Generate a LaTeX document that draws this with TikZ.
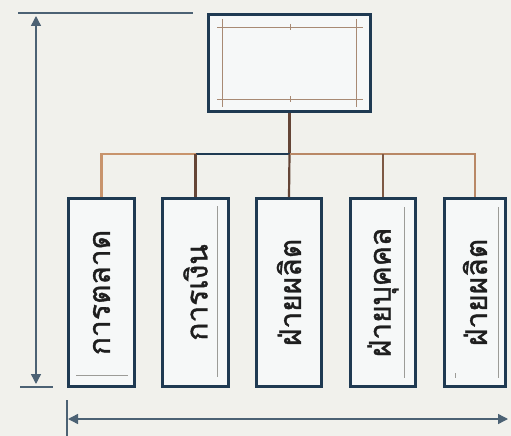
\documentclass[tikz,border=0pt]{standalone}
\usepackage{fontspec}
\newfontfamily\thaifont[Script=Thai,FakeBold=1.2]{Loma}
\usetikzlibrary{arrows.meta}
\definecolor{paper}{HTML}{F1F1EC}
\definecolor{navy}{HTML}{1F3A52}
\definecolor{boxfill}{HTML}{F6F8F8}
\definecolor{slate}{HTML}{4C6274}
\definecolor{copper}{HTML}{C8946C}
\definecolor{rust}{HTML}{B98866}
\definecolor{umber}{HTML}{654536}
\definecolor{guide}{HTML}{A88A74}
\definecolor{pencil}{HTML}{9C9C98}
\definecolor{ink}{HTML}{1E1E1E}
\tikzset{
  unitbox/.style={draw=navy, line width=3pt, fill=boxfill, inner sep=0pt,
    minimum height=188pt},
  unitlabel/.style={rotate=90, font=\thaifont\fontsize{30}{32}\selectfont, text=ink},
  headbox/.style={draw=navy, line width=3pt, fill=boxfill, inner sep=0pt,
    minimum width=162pt, minimum height=97pt},
  dimline/.style={draw=slate, line width=1.4pt},
  dimarrow/.style={dimline, {Triangle[width=10pt,length=10pt]}-{Triangle[width=10pt,length=10pt]}},
  guideline/.style={draw=guide, line width=0.8pt},
  pencilline/.style={draw=pencil, line width=0.7pt},
  link/.style={line width=2.2pt}
}
\begin{document}
\begin{tikzpicture}[x=1pt,y=-1pt]
\fill[paper] (0,0) rectangle (511,436);
\useasboundingbox (0,0) rectangle (511,436);

% head box with its construction frame
\node[headbox] (top) at (289.5,63) {};
\draw[guideline] (217,27) -- (363,27);
\draw[guideline] (217,99) -- (363,99);
\draw[guideline] (222,19) -- (222,107);
\draw[guideline] (356,19) -- (356,107);
\draw[guideline] (290,24) -- (290,30);
\draw[guideline] (290,96) -- (290,102);

% department boxes
\node[unitbox, minimum width=66pt] (b1) at (101.5,292.5) {};
\node[unitbox, minimum width=66pt] (b2) at (195.5,292.5) {};
\node[unitbox, minimum width=65pt] (b3) at (289,292.5) {};
\node[unitbox, minimum width=65pt] (b4) at (383,292.5) {};
\node[unitbox, minimum width=61pt] (b5) at (475,292.5) {};

\node[unitlabel] (t1) at (b1) {การตลาด};
\node[unitlabel] (t2) at (b2) {การเงิน};
\node[unitlabel] (t3) at (b3) {ฝ่ายผลิต};
\node[unitlabel] (t4) at (b4) {ฝ่ายบุคคล};
\node[unitlabel] (t5) at (b5) {ฝ่ายผลิต};

% faint pencil marks inside the boxes
\draw[pencilline] (76,375) -- (128,375);
\draw[pencilline] (217,206) -- (217,377);
\draw[pencilline] (404,207) -- (404,378);
\draw[pencilline] (498,207) -- (498,378);
\draw[pencilline] (455,373) -- (455,378);

% connectors
\coordinate (hub) at (289.5,154);
\draw[link, umber] (top.south) -- (hub);
\draw[link, copper] (b1.north) |- (b2.north |- hub);
\draw[link, navy] (b2.north |- hub) -- (hub);
\draw[link, umber] (b2.north) -- (b2.north |- hub);
\draw[link, umber] (b3.north) -- (hub);
\draw[link, rust] (hub) -| (b5.north);
\draw[link, umber!70!rust] (b4.north) -- (b4.north |- hub);

% dimension lines
\coordinate (hl) at (18,13);
\coordinate (hr) at (193,13);
\coordinate (va) at (36,16);
\coordinate (vb) at (36,384);
\coordinate (ll) at (20,387);
\coordinate (lr) at (53,387);
\draw[dimline] (hl) -- (hr);
\draw[dimline] (ll) -- (lr);
\draw[dimarrow] (va) -- (vb);
\coordinate (ta) at (67,400);
\coordinate (tb) at (67,436);
\coordinate (ha) at (68,419);
\coordinate (hb) at (508,419);
\draw[dimline] (ta) -- (tb);
\draw[dimarrow] (ha) -- (hb);
\end{tikzpicture}
\end{document}
